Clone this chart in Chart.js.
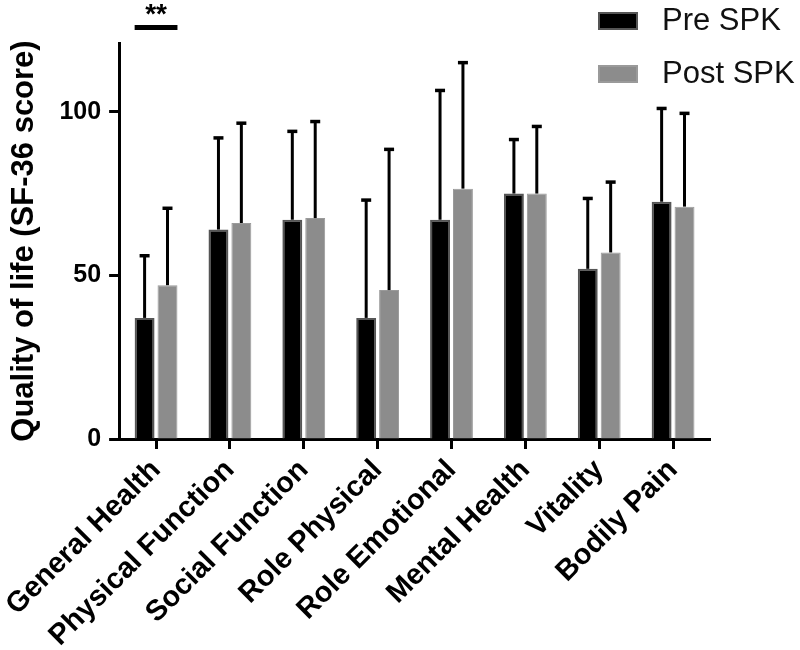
<!DOCTYPE html>
<html>
<head>
<meta charset="utf-8">
<script src="https://cdn.jsdelivr.net/npm/chart.js@4.4.1/dist/chart.umd.min.js"></script>
<style>
  body { margin: 0; background: #fff; }
  #wrap { width: 800px; height: 650px; }
</style>
</head>
<body>
<div id="wrap"><canvas id="qol"></canvas></div>
<script>
const categories = ['General Health', 'Physical Function', 'Social Function', 'Role Physical',
  'Role Emotional', 'Mental Health', 'Vitality', 'Bodily Pain'];
const preMean = [37, 64, 67, 37, 67, 75, 52, 72.5];
const preSD = [19, 28, 27, 36, 39.5, 16.5, 21.5, 28.5];
const postMean = [47, 66, 67.5, 45.5, 76.5, 75, 57, 71];
const postSD = [23.5, 30.5, 29.5, 43, 38.5, 20.5, 21.5, 28.5];
const yTicks = [0, 50, 100];
const seriesNames = ['Pre SPK', 'Post SPK'];

Chart.defaults.font.family = 'Arial, "Liberation Sans", sans-serif';
Chart.defaults.color = '#000';

// upward-only error bars with caps
const errorBars = {
  id: 'errorBars',
  afterDatasetsDraw(chart) {
    const ctx = chart.ctx;
    const y = chart.scales.y;
    const sds = [preSD, postSD];
    ctx.save();
    ctx.strokeStyle = '#000';
    chart.data.datasets.forEach((ds, di) => {
      chart.getDatasetMeta(di).data.forEach((bar, i) => {
        const top = y.getPixelForValue(ds.data[i] + sds[di][i]);
        ctx.lineWidth = 3;
        ctx.beginPath();
        ctx.moveTo(bar.x, bar.y);
        ctx.lineTo(bar.x, top);
        ctx.stroke();
        ctx.lineWidth = 3.5;
        ctx.beginPath();
        ctx.moveTo(bar.x - 5, top);
        ctx.lineTo(bar.x + 5, top);
        ctx.stroke();
      });
    });
    ctx.restore();
  }
};

// legend top right + significance marker over General Health
const extras = {
  id: 'extras',
  afterDraw(chart) {
    const ctx = chart.ctx;
    ctx.save();
    const boxes = [['#000', '#555'], ['#8c8c8c', '#9a9a9a']];
    seriesNames.forEach((name, i) => {
      const by = 12 + i * 53;
      ctx.fillStyle = boxes[i][1];
      ctx.fillRect(598, by, 40, 18);
      ctx.fillStyle = boxes[i][0];
      ctx.fillRect(600, by + 2, 36, 14);
      ctx.fillStyle = '#111';
      ctx.font = '31px Arial, "Liberation Sans", sans-serif';
      ctx.textBaseline = 'middle';
      ctx.fillText(name, 662, by + 9);
    });
    const a = chart.getDatasetMeta(0).data[0];
    const b = chart.getDatasetMeta(1).data[0];
    const x0 = a.x - a.width / 2, x1 = b.x + b.width / 2;
    ctx.fillStyle = '#000';
    ctx.fillRect(x0, 25, x1 - x0, 5);
    ctx.font = 'bold 28px Arial, "Liberation Sans", sans-serif';
    ctx.textAlign = 'center';
    ctx.textBaseline = 'top';
    ctx.fillText('**', (x0 + x1) / 2, 1);
    ctx.restore();
  }
};

new Chart(document.getElementById('qol'), {
  type: 'bar',
  data: {
    labels: categories,
    datasets: [
      { label: seriesNames[0], data: preMean, backgroundColor: '#000', borderColor: '#555', borderWidth: 2,
        barPercentage: 0.87, categoryPercentage: 0.62 },
      { label: seriesNames[1], data: postMean, backgroundColor: '#8c8c8c', borderColor: '#9a9a9a', borderWidth: 1,
        barPercentage: 0.87, categoryPercentage: 0.62 }
    ]
  },
  options: {
    responsive: true,
    maintainAspectRatio: false,
    animation: false,
    layout: { padding: { top: 43, right: 90, left: 0, bottom: 0 } },
    plugins: { legend: { display: false }, tooltip: { enabled: false } },
    scales: {
      x: {
        grid: { offset: false, drawOnChartArea: false, drawTicks: true, tickLength: 10, tickWidth: 3, tickColor: '#000' },
        border: { display: true, width: 3, color: '#000' },
        ticks: { minRotation: 45, maxRotation: 45, autoSkip: false, padding: 4,
          font: { size: 29, weight: 'bold' }, color: '#000' },
        afterFit(scale) { scale.height = 211; }
      },
      y: {
        min: 0,
        max: 121,
        afterBuildTicks(scale) { scale.ticks = yTicks.map(v => ({ value: v })); },
        grid: { drawOnChartArea: false, drawTicks: true, tickLength: 10, tickWidth: 3, tickColor: '#000' },
        border: { display: true, width: 3, color: '#000' },
        ticks: { padding: 8, font: { size: 25, weight: 'bold' }, color: '#000' },
        title: { display: true, text: 'Quality of life (SF-36 score)', padding: { top: 4, bottom: 0 },
          font: { size: 31, weight: 'bold' }, color: '#000' },
        afterFit(scale) { scale.width = 117; }
      }
    }
  },
  plugins: [errorBars, extras]
});
</script>
</body>
</html>
